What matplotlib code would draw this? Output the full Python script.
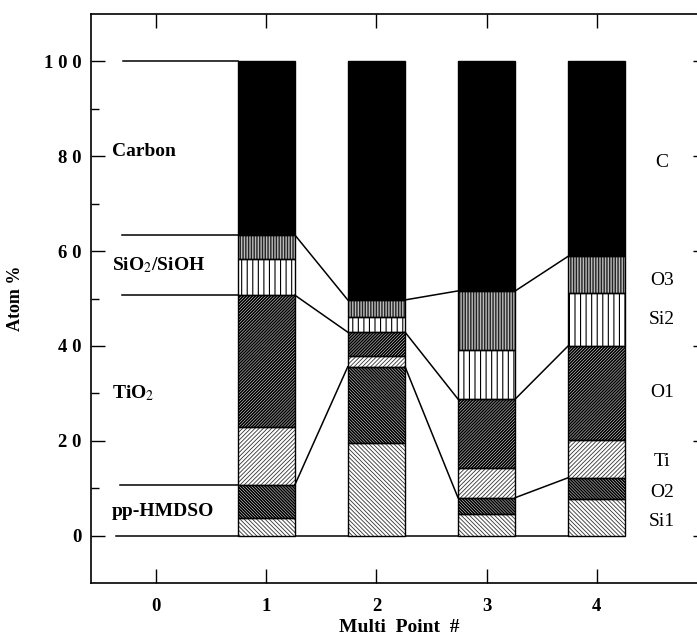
"""
Stacked XPS composition bars (atom %) for four multi-point positions,
with connector lines between the component groups.
"""

import numpy as np
import matplotlib.pyplot as plt

# ---- data (atom %, per component, bottom to top) ----
points = [1, 2, 3, 4]
si1 = [3.8, 19.6, 4.6, 7.8]
o2 = [6.9, 16.0, 3.4, 4.4]
ti = [12.2, 2.3, 6.3, 8.0]
o1 = [27.8, 5.0, 14.5, 19.8]
si2 = [7.6, 3.2, 10.4, 11.2]
o3 = [5.1, 3.6, 12.4, 7.7]
c = [36.6, 50.3, 48.4, 41.1]

components = ['Si1', 'O2', 'Ti', 'O1', 'Si2', 'O3', 'C']
values = [si1, o2, ti, o1, si2, o3, c]

# right-hand labels (text, y position)
right_labels = ['C', 'O3', 'Si2', 'O1', 'Ti', 'O2', 'Si1']
right_label_y = [78.7, 53.9, 45.5, 30.1, 15.6, 9.1, 3.0]

# left-hand group labels
group_labels = ['Carbon', 'SiO$_2$/SiOH', 'TiO$_2$', 'pp-HMDSO']
group_label_y = [81, 57, 30, 5]

xtick_vals = [0, 1, 2, 3, 4]
ytick_vals = [0, 20, 40, 60, 80, 100]
ytick_text = ['0', '2 0', '4 0', '6 0', '8 0', '1 0 0']

# hatch style per component: (hatch, hatch colour, hatch linewidth, face)
styles = {
    'Si1': ('\\' * 8, '#333333', 0.6, 'white'),
    'O2': ('\\' * 11, 'black', 1.2, 'white'),
    'Ti': ('/' * 8, '#333333', 0.6, 'white'),
    'O1': ('/' * 11, 'black', 1.2, 'white'),
    'Si2': ('|||', 'black', 0.8, 'white'),
    'O3': ('||||||', '#222222', 1.0, '#bbbbbb'),
    'C': ('', 'black', 0.0, 'black'),
}

plt.rcParams['font.family'] = ['Liberation Serif', 'DejaVu Serif']
plt.rcParams['mathtext.fontset'] = 'stix'

fig = plt.figure(figsize=(6.97, 6.42), dpi=100)
ax = fig.add_axes([91 / 697, 59 / 642, 616 / 697, 569 / 642])

width = 0.52
x = np.array(points, dtype=float)
bottom = np.zeros(len(points))
cum = {}
for name, vals in zip(components, values):
    vals = np.array(vals)
    hatch, hcol, hlw, face = styles[name]
    with plt.rc_context({'hatch.linewidth': hlw if hlw > 0 else 0.5}):
        bars = ax.bar(x, vals, width, bottom=bottom, color=face,
                      edgecolor=hcol, hatch=hatch, linewidth=0, zorder=2)
        for b in bars:
            if hasattr(b, 'set_hatch_linewidth') and hlw > 0:
                b.set_hatch_linewidth(hlw)
    ax.bar(x, vals, width, bottom=bottom, fill=False,
           edgecolor='black', linewidth=1.0, zorder=3)
    bottom = bottom + vals
    cum[name] = bottom.copy()

# connector lines between group tops
for key in ['O2', 'O1', 'O3']:
    tops = cum[key]
    for i in range(len(points) - 1):
        ax.plot([x[i] + width / 2, x[i + 1] - width / 2],
                [tops[i], tops[i + 1]], color='black', lw=1.1, zorder=4)

# horizontal lines on the left, at the first bar's boundaries
left_x = x[0] - width / 2
ax.plot([-0.30, left_x], [100, 100], color='black', lw=1.1)
ax.plot([-0.31, left_x], [cum['O3'][0]] * 2, color='black', lw=1.1)
ax.plot([-0.31, left_x], [cum['O1'][0]] * 2, color='black', lw=1.1)
ax.plot([-0.33, left_x], [cum['O2'][0]] * 2, color='black', lw=1.1)
ax.plot([-0.36, x[-1] + width / 2], [0, 0], color='black', lw=1.1, zorder=1)

for txt, yy in zip(group_labels, group_label_y):
    ax.text(-0.40, yy, txt, fontsize=14, fontweight='bold', va='center',
            ha='left')
for txt, yy in zip(right_labels, right_label_y):
    ax.text(4.59, yy, txt, fontsize=14, va='center', ha='center')

ax.set_xlim(-0.59, 5.0)
ax.set_ylim(-10, 110)
ax.set_xticks(xtick_vals)
ax.set_xticklabels([str(v) for v in xtick_vals], fontsize=13.5,
                   fontweight='bold')
ax.set_yticks(ytick_vals)
ax.set_yticklabels(ytick_text, fontsize=13.5, fontweight='bold')
ax.set_yticks([10, 30, 50, 70, 90], minor=True)
ax.tick_params(which='both', direction='in', top=True, right=True,
               width=1.0)
ax.tick_params(which='major', length=10)
ax.tick_params(which='minor', length=6)
ax.tick_params(axis='x', pad=11)
ax.tick_params(axis='y', pad=7)
for s in ax.spines.values():
    s.set_linewidth(1.2)

ax.set_xlabel('Multi  Point  #', fontsize=14, fontweight='bold', labelpad=3)
ax.set_ylabel('Atom %', fontsize=13, fontweight='bold', labelpad=14)

fig.savefig('out.png', dpi=100)
